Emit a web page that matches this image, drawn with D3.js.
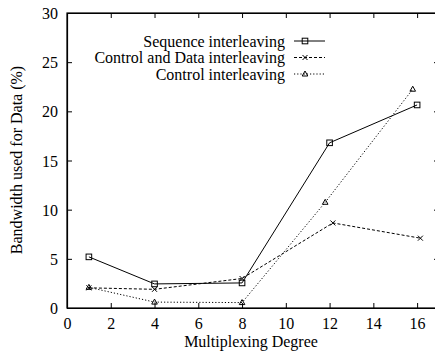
<!DOCTYPE html>
<html>
<head>
<meta charset="utf-8">
<script src="https://cdn.jsdelivr.net/npm/d3@7"></script>
<style>
  body { margin: 0; background: #fff; }
</style>
</head>
<body>
<script>
// values
var seriesNames = ["Sequence interleaving", "Control and Data interleaving", "Control interleaving"];
var seqX = [1, 4, 8, 12, 16];
var seqY = [5.2, 2.45, 2.55, 16.8, 20.65];
var cdX = [1, 4, 8, 12.15, 16.15];
var cdY = [2.05, 1.9, 3.0, 8.65, 7.1];
var ctlX = [1, 4, 8, 11.8, 15.8];
var ctlY = [2.1, 0.6, 0.55, 10.75, 22.25];
var xTicks = [0, 2, 4, 6, 8, 10, 12, 14, 16];
var yTicks = [0, 5, 10, 15, 20, 25, 30];

var FONT = "Liberation Serif";
var FSIZE = 16;

function drawChart(){
    var svg = d3.select("body").append("svg").attr("width", 435).attr("height", 352);

    // plot frame, right edge falls just outside the picture
    var margin = {top: 13, left: 67};
    var w = 372;
    var h = 295;
    var g = svg.append("g").attr("transform", "translate(" + margin.left + "," + margin.top + ")");

    var xScale = d3.scaleLinear().domain([0, 17]).range([0, w]);
    var yScale = d3.scaleLinear().domain([0, 30]).range([h, 0]);

    // ticks point inward on all sides
    g.append("g")
        .attr("transform", "translate(0," + h + ")")
        .call(d3.axisBottom(xScale).tickValues(xTicks).tickSizeInner(-5).tickSizeOuter(0).tickPadding(10));
    var yAxis = g.append("g")
        .call(d3.axisLeft(yScale).tickValues(yTicks).tickSizeInner(-5).tickSizeOuter(0).tickPadding(9));
    g.append("g")
        .call(d3.axisTop(xScale).tickValues(xTicks.filter(function(d){ return d > 0; })).tickSizeInner(-5).tickSizeOuter(0).tickFormat(""));
    g.append("g")
        .attr("transform", "translate(" + w + ",0)")
        .call(d3.axisRight(yScale).tickValues(yTicks).tickSizeInner(-5).tickSizeOuter(0).tickFormat(""));

    g.selectAll(".domain").attr("stroke", "#000").attr("stroke-width", 1.2);
    g.selectAll(".tick line").attr("stroke", "#000");
    g.selectAll(".tick text").attr("font-family", FONT).attr("font-size", FSIZE).attr("fill", "#000");
    yAxis.selectAll(".tick text").attr("dy", "0.35em");
    // frame lines
    g.append("rect").attr("width", w).attr("height", h)
        .attr("fill", "none").attr("stroke", "#000").attr("stroke-width", 1.2);

    var series = [
        {name: seriesNames[0], xs: seqX, ys: seqY, dash: null, marker: "square"},
        {name: seriesNames[1], xs: cdX, ys: cdY, dash: "3,2", marker: "cross"},
        {name: seriesNames[2], xs: ctlX, ys: ctlY, dash: "1.2,2", marker: "triangle"}
    ];

    var line = d3.line()
        .x(function(d){ return xScale(d[0]); })
        .y(function(d){ return yScale(d[1]); });

    function drawMarker(sel, type, x, y){
        if (type === "square") {
            sel.append("rect").attr("x", x - 2.8).attr("y", y - 2.8).attr("width", 5.6).attr("height", 5.6)
                .attr("fill", "none").attr("stroke", "#000").attr("stroke-width", 1);
        } else if (type === "cross") {
            sel.append("path").attr("d", "M" + (x-2.5) + "," + (y-2.5) + "L" + (x+2.5) + "," + (y+2.5) +
                "M" + (x-2.5) + "," + (y+2.5) + "L" + (x+2.5) + "," + (y-2.5))
                .attr("stroke", "#000").attr("stroke-width", 1);
        } else {
            sel.append("path").attr("d", "M" + x + "," + (y-3) + "L" + (x+2.8) + "," + (y+2) + "L" + (x-2.8) + "," + (y+2) + "Z")
                .attr("fill", "none").attr("stroke", "#000").attr("stroke-width", 1);
        }
    }

    series.forEach(function(s){
        var pts = s.xs.map(function(x, i){ return [x, s.ys[i]]; });
        g.append("path")
            .datum(pts)
            .attr("d", line)
            .attr("fill", "none")
            .attr("stroke", "#000")
            .attr("stroke-width", 1)
            .attr("stroke-dasharray", s.dash);
        var mg = g.append("g");
        pts.forEach(function(p){
            drawMarker(mg, s.marker, xScale(p[0]), yScale(p[1]));
        });
    });

    // legend
    var lg = svg.append("g");
    series.forEach(function(s, i){
        var y = 41 + i * 16.5;
        lg.append("text").attr("x", 285).attr("y", y).attr("dy", "0.35em")
            .attr("font-family", FONT).attr("font-size", FSIZE)
            .attr("text-anchor", "end").text(s.name);
        lg.append("line").attr("x1", 294).attr("x2", 325).attr("y1", y).attr("y2", y)
            .attr("stroke", "#000").attr("stroke-width", 1).attr("stroke-dasharray", s.dash);
        drawMarker(lg, s.marker, 305, y);
    });

    // axis labels
    svg.append("text")
        .attr("x", 251).attr("y", 347)
        .attr("font-family", FONT).attr("font-size", FSIZE)
        .attr("text-anchor", "middle")
        .text("Multiplexing Degree");
    svg.append("text")
        .attr("transform", "translate(22,160) rotate(-90)")
        .attr("font-family", FONT).attr("font-size", FSIZE)
        .attr("text-anchor", "middle")
        .text("Bandwidth used for Data (%)");
}

drawChart();
</script>
</body>
</html>
